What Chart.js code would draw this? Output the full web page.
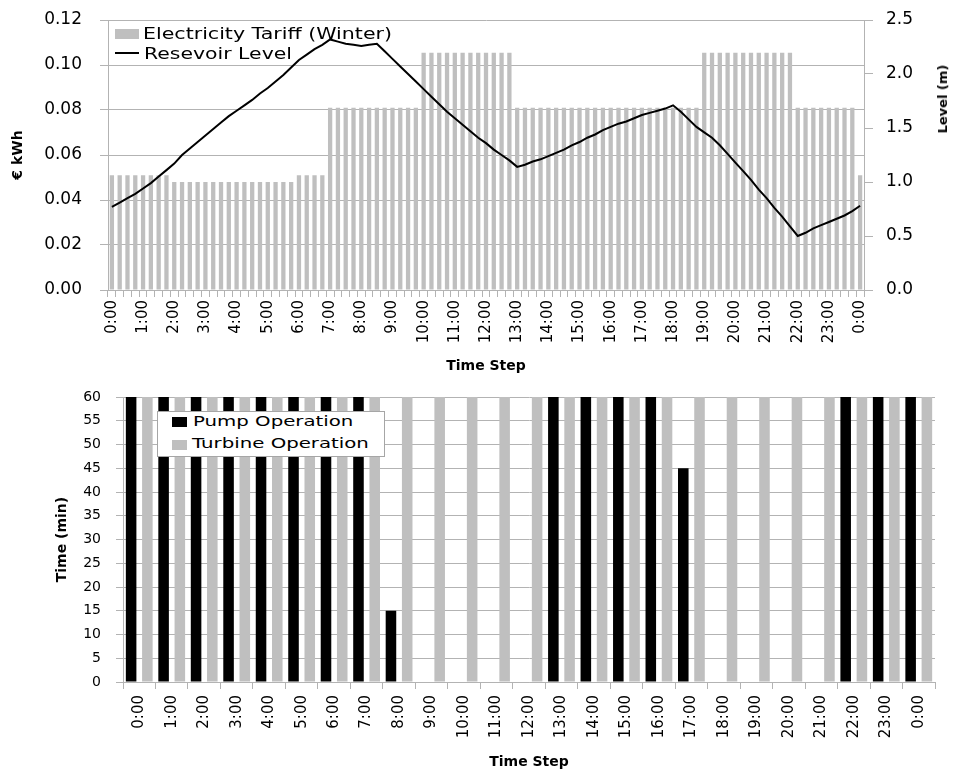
<!DOCTYPE html>
<html><head><meta charset="utf-8">
<script src="https://cdn.jsdelivr.net/npm/chart.js@4/dist/chart.umd.min.js"></script>
<style>
html,body{margin:0;padding:0;background:#fff;}
#wrap{position:relative;width:958px;height:771px;overflow:hidden;font-family:"DejaVu Sans",sans-serif;}
.box{position:absolute;left:0;width:958px;}
.lg{position:absolute;white-space:nowrap;color:#000;}
.lg span{display:inline-block;transform-origin:0 50%;}
</style></head><body>
<div id="wrap">
  <div class="box" style="top:0;height:375px"><canvas id="topChart"></canvas></div>
  <div class="box" style="top:375px;height:396px"><canvas id="botChart"></canvas></div>

  <div class="lg" style="left:115px;top:29px;width:24px;height:10px;background:#bfbfbf"></div>
  <div class="lg" style="left:143px;top:25px;line-height:18px;font-size:15px"><span style="transform:scaleX(1.37)">Electricity Tariff (Winter)</span></div>
  <div class="lg" style="left:115px;top:52px;width:24px;height:2px;background:#000"></div>
  <div class="lg" style="left:144px;top:45px;line-height:18px;font-size:15px"><span style="transform:scaleX(1.36)">Resevoir Level</span></div>

  <div class="lg" style="left:943px;top:99px;font-size:13px;font-weight:bold;line-height:16px;transform:translate(-50%,-50%) rotate(-90deg)">Level (m)</div>

  <div class="lg" style="left:157px;top:411px;width:226px;height:44px;background:#fff;border:1px solid #a6a6a6"></div>
  <div class="lg" style="left:172px;top:417px;width:15px;height:10px;background:#000"></div>
  <div class="lg" style="left:193px;top:412px;line-height:18px;font-size:14px"><span style="transform:scaleX(1.41)">Pump Operation</span></div>
  <div class="lg" style="left:172px;top:440px;width:15px;height:10px;background:#bfbfbf"></div>
  <div class="lg" style="left:192px;top:434px;line-height:18px;font-size:14px"><span style="transform:scaleX(1.41)">Turbine Operation</span></div>
</div>
<script>
const hourLabels = ['0:00','1:00','2:00','3:00','4:00','5:00','6:00','7:00','8:00','9:00','10:00','11:00','12:00',
  '13:00','14:00','15:00','16:00','17:00','18:00','19:00','20:00','21:00','22:00','23:00','0:00'];

// 15-minute electricity tariff (EUR/kWh), 97 steps from 0:00 to 0:00
const tariffWinter = [
  0.051,0.051,0.051,0.051,0.051,0.051,0.051,0.051,
  0.048,0.048,0.048,0.048,0.048,0.048,0.048,0.048,0.048,0.048,0.048,0.048,0.048,0.048,0.048,0.048,
  0.051,0.051,0.051,0.051,
  0.081,0.081,0.081,0.081,0.081,0.081,0.081,0.081,0.081,0.081,0.081,0.081,
  0.1055,0.1055,0.1055,0.1055,0.1055,0.1055,0.1055,0.1055,0.1055,0.1055,0.1055,0.1055,
  0.081,0.081,0.081,0.081,0.081,0.081,0.081,0.081,0.081,0.081,0.081,0.081,
  0.081,0.081,0.081,0.081,0.081,0.081,0.081,0.081,0.081,0.081,0.081,0.081,
  0.1055,0.1055,0.1055,0.1055,0.1055,0.1055,0.1055,0.1055,0.1055,0.1055,0.1055,0.1055,
  0.081,0.081,0.081,0.081,0.081,0.081,0.081,0.081,
  0.051
];

// Reservoir level (m), 97 steps
const reservoirLevel = [
  0.77,0.81,0.85,0.89,0.94,0.99,1.05,1.11,1.17,1.25,
  1.31,1.37,1.43,1.49,1.55,1.61,1.66,1.71,1.76,1.82,
  1.87,1.93,1.99,2.06,2.13,2.18,2.23,2.27,2.32,2.30,
  2.28,2.27,2.26,2.27,2.28,2.21,2.14,2.07,2.00,1.93,
  1.86,1.79,1.72,1.65,1.59,1.53,1.47,1.41,1.36,1.30,
  1.25,1.20,1.14,1.16,1.19,1.21,1.24,1.27,1.30,1.34,
  1.37,1.41,1.44,1.48,1.51,1.54,1.56,1.59,1.62,1.64,
  1.66,1.68,1.71,1.65,1.58,1.51,1.46,1.41,1.34,1.26,
  1.18,1.10,1.02,0.93,0.85,0.76,0.68,0.59,0.50,0.53,
  0.57,0.60,0.63,0.66,0.69,0.73,0.78
];

// Minutes of operation per hour
const pumpMinutes    = [60,60,60,60,60,60,60,60,15,0,0,0,0,60,60,60,60,45,0,0,0,0,60,60,60];
const turbineMinutes = [60,60,60,60,60,60,60,60,60,60,60,60,60,60,60,60,60,60,60,60,60,60,60,60,60];

const timeSteps = reservoirLevel.map((_, i) => (i % 4 === 0 ? hourLabels[i / 4] : ''));

const GRID = '#b3b3b3';
const BAR_GRAY = '#bfbfbf';
const TICK_FONT = {family: 'DejaVu Sans', size: 15};
const TITLE_FONT = {family: 'DejaVu Sans', size: 14, weight: 'bold', lineHeight: 1.2};

new Chart(document.getElementById('topChart'), {
  type: 'bar',
  data: {
    labels: timeSteps,
    datasets: [
      {type: 'line', label: 'Resevoir Level', data: reservoirLevel, yAxisID: 'y1',
       borderColor: '#000', borderWidth: 2, pointRadius: 0, tension: 0, order: 0},
      {type: 'bar', label: 'Electricity Tariff (Winter)', data: tariffWinter, yAxisID: 'y',
       backgroundColor: BAR_GRAY, barPercentage: 0.55, categoryPercentage: 1.0, order: 1}
    ]
  },
  options: {
    responsive: true, maintainAspectRatio: false, animation: false, devicePixelRatio: 1,
    layout: {padding: {top: 20, left: 0, right: 0, bottom: 0}},
    plugins: {legend: {display: false}, tooltip: {enabled: false}},
    scales: {
      x: {
        grid: {drawOnChartArea: false, color: GRID, tickLength: 7},
        border: {color: GRID},
        ticks: {autoSkip: false, minRotation: 90, maxRotation: 90, padding: 3, color: '#000', font: TICK_FONT},
        title: {display: true, text: 'Time Step', color: '#000', font: TITLE_FONT, padding: {top: 0, bottom: 0}},
        afterFit: s => { s.height = 85; }
      },
      y: {
        position: 'left', min: 0, max: 0.12,
        grid: {color: GRID, tickLength: 8},
        border: {color: GRID},
        ticks: {stepSize: 0.02, padding: 18, color: '#000', font: {family: 'DejaVu Sans', size: 17, lineHeight: 0.2},
                callback: v => v.toFixed(2)},
        title: {display: true, text: '€ kWh', color: '#000', font: TITLE_FONT, padding: {top: 10, bottom: 0}},
        afterFit: s => { s.width = 108; }
      },
      y1: {
        position: 'right', min: 0, max: 2.5,
        grid: {drawOnChartArea: false, color: GRID, tickLength: 9},
        border: {color: GRID},
        ticks: {stepSize: 0.5, padding: 13, color: '#000', font: {family: 'DejaVu Sans', size: 17, lineHeight: 0.2},
                callback: v => v.toFixed(1)},
        afterFit: s => { s.width = 94; }
      }
    }
  }
});

new Chart(document.getElementById('botChart'), {
  type: 'bar',
  data: {
    labels: hourLabels,
    datasets: [
      {label: 'Pump Operation', data: pumpMinutes, backgroundColor: '#000',
       barPercentage: 0.65, categoryPercentage: 1.0},
      {label: 'Turbine Operation', data: turbineMinutes, backgroundColor: BAR_GRAY,
       barPercentage: 0.65, categoryPercentage: 1.0}
    ]
  },
  options: {
    responsive: true, maintainAspectRatio: false, animation: false, devicePixelRatio: 1,
    layout: {padding: {top: 22, left: 0, right: 23, bottom: 0}},
    plugins: {legend: {display: false}, tooltip: {enabled: false}},
    scales: {
      x: {
        grid: {drawOnChartArea: false, color: GRID, tickLength: 7},
        border: {color: GRID},
        ticks: {autoSkip: false, minRotation: 90, maxRotation: 90, padding: 6, color: '#000', font: TICK_FONT},
        title: {display: true, text: 'Time Step', color: '#000', font: TITLE_FONT, padding: {top: 0, bottom: 0}},
        afterFit: s => { s.height = 89; }
      },
      y: {
        min: 0, max: 60,
        grid: {color: GRID, tickLength: 7},
        border: {color: GRID},
        ticks: {stepSize: 5, padding: 15, color: '#000', font: {family: 'DejaVu Sans', size: 14, lineHeight: 0.2}},
        title: {display: true, text: 'Time (min)', color: '#000', font: TITLE_FONT, padding: {top: 53.6, bottom: 0}},
        afterFit: s => { s.width = 123; }
      }
    }
  }
});
</script>
</body></html>
